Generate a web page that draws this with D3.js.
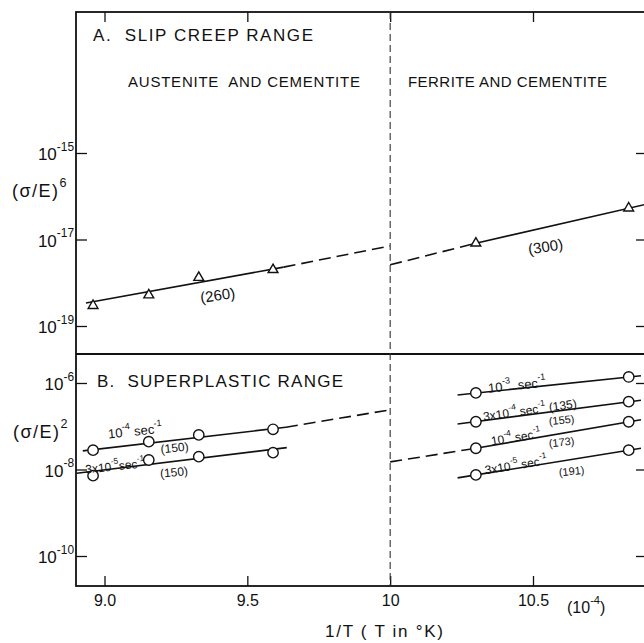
<!DOCTYPE html>
<html>
<head>
<meta charset="utf-8">
<script src="https://cdn.jsdelivr.net/npm/d3@7"></script>
<style>
	body { margin: 0; background: #fff; }
	svg { display: block; font-family: "Liberation Sans", Arial, sans-serif; }
</style>
</head>
<body>
<div id="chart"></div>
<script>

// x axis: 1/T in units of 10^-4 (T in K)
const xTicks = [9.0, 9.5, 10.0, 10.5];
const xTickLabels = ["9.0", "9.5", "10", "10.5"];
const boundaryInvT = 10.0;

// y ticks, (sigma/E)^6 and (sigma/E)^2
const creepTicks = [1e-15, 1e-17, 1e-19];
const creepTickExp = ["-15", "-17", "-19"];
const spTicks = [1e-6, 1e-8, 1e-10];
const spTickExp = ["-6", "-8", "-10"];

// test temperatures
const austeniteInvT = [8.96, 9.155, 9.33, 9.59];
const ferriteInvT = [10.30, 10.835];

// A. slip creep range, (sigma/E)^6
const creepAustenite = [2.95e-19, 5.2e-19, 1.32e-18, 2.0e-18];
const creepAusteniteFit = [[8.935, 3.4e-19], [9.627, 2.3e-18]];
const creepAusteniteExt = [[9.627, 2.3e-18], [10.0, 7.1e-18]];
const creepFerrite = [8.2e-18, 5.3e-17];
const creepFerriteFit = [[10.30, 8.2e-18], [10.89, 6.4e-17]];
const creepFerriteExt = [[10.0, 2.6e-18], [10.30, 8.2e-18]];

// B. superplastic range, (sigma/E)^2
const spAust1e4 = [2.8e-8, 4.4e-8, 6.3e-8, 8.5e-8];
const spAust1e4Fit = [[8.924, 2.7e-8], [9.635, 9.5e-8]];
const spAust1e4Ext = [[9.635, 9.5e-8], [10.0, 2.4e-7]];
const spAust3e5 = [7.2e-9, 1.66e-8, 1.98e-8, 2.45e-8];
const spAust3e5Fit = [[8.903, 8.2e-9], [9.638, 3.2e-8]];

const spFer1e3 = [5.9e-7, 1.38e-6];
const spFer1e3Fit = [[10.236, 5.3e-7], [10.878, 1.47e-6]];
const spFer3e4 = [1.27e-7, 3.7e-7];
const spFer3e4Fit = [[10.236, 1.13e-7], [10.878, 4.0e-7]];
const spFer1e4 = [3.1e-8, 1.27e-7];
const spFer1e4Fit = [[10.30, 3.1e-8], [10.878, 1.42e-7]];
const spFer1e4Ext = [[10.0, 1.5e-8], [10.30, 3.1e-8]];
const spFer3e5 = [7.5e-9, 2.8e-8];
const spFer3e5Fit = [[10.236, 6.4e-9], [10.878, 3.1e-8]];

// ---------------------------------------------------------------

const width = 644, height = 643;
const frame = {left: 76, right: 645, top: 12, mid: 354, bottom: 586};
const ink = "#111";

const svg = d3.select("#chart").append("svg")
	.attr("width", width)
	.attr("height", height);

// Scales
const x = d3.scaleLinear().domain([9.0, 10.5]).range([104.5, 533]);
const yTop = d3.scaleLog().domain([1e-19, 1e-15]).range([326, 153]);
const yBot = d3.scaleLog().domain([1e-10, 1e-6]).range([556, 383]);

// write text made of [string, isSuperscript] parts
function richText(sel, parts, size) {
	let up = 0;
	parts.forEach(function(p) {
		const sup = p[1] === true;
		const shift = sup ? -size * 0.55 : 0;
		sel.append("tspan")
			.attr("dy", shift - up)
			.attr("font-size", sup ? size * 0.7 : size)
			.text(p[0]);
		up = shift;
	});
	return sel;
}

// Axes
function styleAxis(g) {
	g.select(".domain").remove();
	g.selectAll(".tick line").attr("stroke", ink).attr("stroke-width", 1.3);
}

svg.append("g")
	.attr("transform", "translate(0," + frame.bottom + ")")
	.call(d3.axisBottom(x).tickValues(xTicks).tickSizeInner(-10).tickSizeOuter(0)
		.tickPadding(9).tickFormat(function(d, i) { return xTickLabels[i]; }))
	.call(styleAxis)
	.call(function(g) {
		g.selectAll(".tick text").attr("fill", ink).attr("font-size", 16)
			.attr("font-family", "Liberation Sans, Arial, sans-serif");
	});

svg.append("g")
	.attr("transform", "translate(0," + frame.top + ")")
	.call(d3.axisTop(x).tickValues(xTicks).tickSizeInner(-10).tickSizeOuter(0).tickFormat(""))
	.call(styleAxis);

function yAxes(scale, ticks, exps) {
	const left = svg.append("g")
		.attr("transform", "translate(" + frame.left + ",0)")
		.call(d3.axisLeft(scale).tickValues(ticks).tickSizeInner(-11).tickSizeOuter(0).tickFormat(""))
		.call(styleAxis);
	left.selectAll(".tick").each(function(d, i) {
		const t = d3.select(this).append("text")
			.attr("x", -2)
			.attr("y", 6.5)
			.attr("text-anchor", "end")
			.attr("fill", ink)
			.attr("font-family", "Liberation Sans, Arial, sans-serif");
		richText(t, [["10"], [exps[i], true]], 17);
	});

	svg.append("g")
		.attr("transform", "translate(" + frame.right + ",0)")
		.call(d3.axisRight(scale).tickValues(ticks).tickSizeInner(-9).tickSizeOuter(0).tickFormat(""))
		.call(styleAxis);
}
yAxes(yTop, creepTicks, creepTickExp);
yAxes(yBot, spTicks, spTickExp);

// frame and panel divider
svg.append("rect")
	.attr("x", frame.left)
	.attr("y", frame.top)
	.attr("width", frame.right - frame.left)
	.attr("height", frame.bottom - frame.top)
	.attr("fill", "none")
	.attr("stroke", ink)
	.attr("stroke-width", 1.8);

svg.append("line")
	.attr("x1", frame.left).attr("x2", frame.right)
	.attr("y1", frame.mid).attr("y2", frame.mid)
	.attr("stroke", ink)
	.attr("stroke-width", 1.8);

// austenite / ferrite boundary
svg.append("line")
	.attr("x1", x(boundaryInvT)).attr("x2", x(boundaryInvT))
	.attr("y1", frame.top).attr("y2", frame.bottom)
	.attr("stroke", "#333")
	.attr("stroke-width", 1.1)
	.attr("stroke-dasharray", "7,4");

// fitted lines
function drawLine(pts, scale, dashed) {
	const gen = d3.line()
		.x(function(d) { return x(d[0]); })
		.y(function(d) { return scale(d[1]); });
	svg.append("path")
		.datum(pts)
		.attr("d", gen)
		.attr("fill", "none")
		.attr("stroke", ink)
		.attr("stroke-width", 1.6)
		.attr("stroke-dasharray", dashed ? "12,6" : null);
}

drawLine(creepAusteniteFit, yTop, false);
drawLine(creepAusteniteExt, yTop, true);
drawLine(creepFerriteFit, yTop, false);
drawLine(creepFerriteExt, yTop, true);

drawLine(spAust1e4Fit, yBot, false);
drawLine(spAust1e4Ext, yBot, true);
drawLine(spAust3e5Fit, yBot, false);
drawLine(spFer1e3Fit, yBot, false);
drawLine(spFer3e4Fit, yBot, false);
drawLine(spFer1e4Fit, yBot, false);
drawLine(spFer1e4Ext, yBot, true);
drawLine(spFer3e5Fit, yBot, false);

// markers
function drawTriangles(xs, ys) {
	svg.append("g").selectAll("path")
		.data(xs.map(function(v, i) { return [v, ys[i]]; }))
		.join("path")
		.attr("d", d3.symbol(d3.symbolTriangle).size(42))
		.attr("transform", function(d) { return "translate(" + x(d[0]) + "," + yTop(d[1]) + ")"; })
		.attr("fill", "#fff")
		.attr("stroke", ink)
		.attr("stroke-width", 1.4);
}
function drawCircles(xs, ys) {
	svg.append("g").selectAll("circle")
		.data(xs.map(function(v, i) { return [v, ys[i]]; }))
		.join("circle")
		.attr("cx", function(d) { return x(d[0]); })
		.attr("cy", function(d) { return yBot(d[1]); })
		.attr("r", 5.2)
		.attr("fill", "#fff")
		.attr("stroke", ink)
		.attr("stroke-width", 1.4);
}

drawTriangles(austeniteInvT, creepAustenite);
drawTriangles(ferriteInvT, creepFerrite);
drawCircles(austeniteInvT, spAust1e4);
drawCircles(austeniteInvT, spAust3e5);
drawCircles(ferriteInvT, spFer1e3);
drawCircles(ferriteInvT, spFer3e4);
drawCircles(ferriteInvT, spFer1e4);
drawCircles(ferriteInvT, spFer3e5);

// line annotations (activation energies, strain rates)
const notes = [
	{x: 9.396, y: 5.2e-19, s: yTop, size: 15, rot: -8, parts: [["(260)"]]},
	{x: 10.544, y: 6.9e-18, s: yTop, size: 15, rot: -9, parts: [["(300)"]]},
	{x: 9.107, y: 7.8e-8, s: yBot, size: 13, rot: -6, parts: [["10"], ["-4", true], [" sec"], ["-1", true]]},
	{x: 9.245, y: 3.2e-8, s: yBot, size: 12, rot: -6, parts: [["(150)"]]},
	{x: 9.037, y: 1.2e-8, s: yBot, size: 12, rot: -6, parts: [["3x10"], ["-5", true], ["sec"], ["-1", true]]},
	{x: 9.243, y: 8.75e-9, s: yBot, size: 12, rot: -6, parts: [["(150)"]]},
	{x: 10.444, y: 9.0e-7, s: yBot, size: 13, rot: -6, parts: [["10"], ["-3", true], ["  sec"], ["-1", true]]},
	{x: 10.489, y: 2.4e-7, s: yBot, size: 12, rot: -8, parts: [["3x10"], ["-4", true], [" sec"], ["-1", true], [" (135)"]]},
	{x: 10.60, y: 1.4e-7, s: yBot, size: 11, rot: -6, parts: [["(155)"]]},
	{x: 10.44, y: 5.6e-8, s: yBot, size: 12, rot: -9, parts: [["10"], ["-4", true], [" sec"], ["-1", true]]},
	{x: 10.60, y: 4.33e-8, s: yBot, size: 11, rot: -6, parts: [["(173)"]]},
	{x: 10.44, y: 1.27e-8, s: yBot, size: 12, rot: -9, parts: [["3x10"], ["-5", true], [" sec"], ["-1", true]]},
	{x: 10.635, y: 9.2e-9, s: yBot, size: 11, rot: -6, parts: [["(191)"]]}
];

notes.forEach(function(n) {
	const t = svg.append("text")
		.attr("transform", "translate(" + x(n.x) + "," + n.s(n.y) + ") rotate(" + n.rot + ")")
		.attr("text-anchor", "middle")
		.attr("y", n.size * 0.36)
		.attr("fill", ink)
		.style("white-space", "pre");
	richText(t, n.parts, n.size);
});

// titles
function label(xp, yp, size, len, parts) {
	const t = svg.append("text")
		.attr("x", xp)
		.attr("y", yp)
		.attr("fill", ink)
		.style("white-space", "pre");
	richText(t, parts, size);
	if (len) t.attr("textLength", len).attr("lengthAdjust", "spacing");
	return t;
}

label(93, 41, 17, 220, [["A.  SLIP CREEP RANGE"]]);
label(128, 87, 15, 232, [["AUSTENITE  AND CEMENTITE"]]);
label(408, 87, 15, 199, [["FERRITE AND CEMENTITE"]]);
label(97, 387, 17, 246, [["B.  SUPERPLASTIC RANGE"]]);

label(12, 197, 18, null, [["(σ/E)"], ["6", true]]).attr("letter-spacing", 1.5);
label(13, 438, 18, null, [["(σ/E)"], ["2", true]]).attr("letter-spacing", 1.5);

label(567, 613, 16, null, [["(10"], ["-4", true], [")"]]);
label(325, 637, 17, 118, [["1/T ( T in °K)"]]);

</script>
</body>
</html>
